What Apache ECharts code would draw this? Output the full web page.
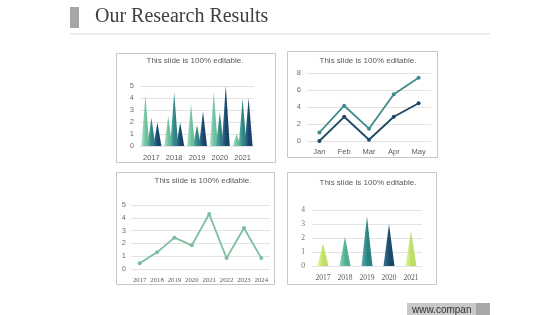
<!DOCTYPE html>
<html>
<head>
<meta charset="utf-8">
<script src="https://cdn.jsdelivr.net/npm/echarts@6/dist/echarts.min.js"></script>
<style>
  html, body { margin: 0; padding: 0; background: #fff; }
  #main { width: 560px; height: 315px; }
</style>
</head>
<body>
<div id="main"></div>
<script>
// chart 1 (cones, 3 series)
const years5 = ['2017', '2018', '2019', '2020', '2021']
const c1A = [4.2, 2.5, 3.5, 4.5, 1.0]
const c1B = [2.35, 4.45, 1.75, 2.8, 3.95]
const c1C = [1.95, 1.95, 2.9, 5.05, 4.0]
// chart 2 (two lines)
const months = ['Jan', 'Feb', 'Mar', 'Apr', 'May']
const c2A = [1.0, 4.15, 1.45, 5.5, 7.45]
const c2B = [0.0, 2.85, 0.15, 2.85, 4.45]
// chart 3 (one line)
const years8 = ['2017', '2018', '2019', '2020', '2021', '2022', '2023', '2024']
const c3 = [0.45, 1.3, 2.45, 1.85, 4.3, 0.85, 3.2, 0.85]
// chart 4 (single cones)
const c4 = [1.6, 2.1, 3.55, 3.0, 2.5]

const subTitle = 'This slide is 100% editable.'
const sans = 'Liberation Sans, Arial, sans-serif'
const serif = 'Liberation Serif, serif'

function grad (light, dark) {
  return new echarts.graphic.LinearGradient(0, 0, 1, 0, [
    { offset: 0, color: light },
    { offset: 0.55, color: dark },
    { offset: 1, color: dark }
  ])
}

function yAx (gridIndex, max, interval, margin, font) {
  return {
    type: 'value', gridIndex: gridIndex, min: 0, max: max, interval: interval,
    axisLine: { show: false }, axisTick: { show: false },
    splitLine: { lineStyle: { color: '#e3e3e3', width: 1 } },
    axisLabel: { color: '#707070', fontSize: 7.5, fontFamily: font, margin: margin }
  }
}
function xAx (gridIndex, data, margin, font, size) {
  return {
    type: 'category', gridIndex: gridIndex, data: data,
    axisLine: { show: false }, axisTick: { show: false },
    axisLabel: { color: '#595959', fontSize: size || 7.5, fontFamily: font, margin: margin, interval: 0 }
  }
}

const c4Colors = [
  ['#e2f59a', '#bfe064'],
  ['#8fd6bd', '#4faf90'],
  ['#5cb0ad', '#2a8383'],
  ['#3b7396', '#1a4a6a'],
  ['#e0f59c', '#bddf68']
]

const myChart = echarts.init(document.getElementById('main'))
myChart.setOption({
  animation: false,
  grid: [
    { left: 140, top: 86, width: 114, height: 60 },
    { left: 307, top: 73, width: 124, height: 68 },
    { left: 131, top: 205, width: 139, height: 64 },
    { left: 312, top: 210, width: 110, height: 56 }
  ],
  xAxis: [
    xAx(0, years5, 8, sans),
    xAx(1, months, 7, sans),
    xAx(2, years8, 8, serif, 6.8),
    xAx(3, years5, 8, serif)
  ],
  yAxis: [
    yAx(0, 5, 1, 6, sans),
    yAx(1, 8, 2, 6, sans),
    yAx(2, 5, 1, 5, sans),
    yAx(3, 4, 1, 7, serif)
  ],
  graphic: [
    // header
    { type: 'rect', shape: { x: 70, y: 7, width: 9, height: 21 }, style: { fill: '#a6a6a6' } },
    { type: 'text', style: { text: 'Our Research Results', x: 95, y: 17, textVerticalAlign: 'middle', font: '20px "Liberation Serif", serif', fill: '#404040' } },
    { type: 'rect', shape: { x: 70, y: 33.5, width: 420, height: 0.8 }, style: { fill: '#cfcfcf' } },
    // panels
    { type: 'rect', z: -1, shape: { x: 116.5, y: 53.5, width: 159, height: 109 }, style: { fill: '#fff', stroke: '#c6c6c6', lineWidth: 1 } },
    { type: 'rect', z: -1, shape: { x: 287.5, y: 51.5, width: 150, height: 106 }, style: { fill: '#fff', stroke: '#c6c6c6', lineWidth: 1 } },
    { type: 'rect', z: -1, shape: { x: 116.5, y: 172.5, width: 158, height: 112 }, style: { fill: '#fff', stroke: '#c6c6c6', lineWidth: 1 } },
    { type: 'rect', z: -1, shape: { x: 287.5, y: 172.5, width: 149, height: 112 }, style: { fill: '#fff', stroke: '#c6c6c6', lineWidth: 1 } },
    // panel titles
    { type: 'text', style: { text: subTitle, x: 195, y: 61, textAlign: 'center', textVerticalAlign: 'middle', font: '8px ' + sans, fill: '#595959' } },
    { type: 'text', style: { text: subTitle, x: 368, y: 61, textAlign: 'center', textVerticalAlign: 'middle', font: '8px ' + sans, fill: '#595959' } },
    { type: 'text', style: { text: subTitle, x: 203, y: 181, textAlign: 'center', textVerticalAlign: 'middle', font: '8px ' + sans, fill: '#595959' } },
    { type: 'text', style: { text: subTitle, x: 368, y: 183, textAlign: 'center', textVerticalAlign: 'middle', font: '8px ' + sans, fill: '#595959' } },
    // footer
    { type: 'rect', shape: { x: 407, y: 303, width: 69, height: 12 }, style: { fill: '#c9c9c9' } },
    { type: 'rect', shape: { x: 476, y: 303, width: 14, height: 12 }, style: { fill: '#a8a8a8' } },
    { type: 'text', style: { text: 'www.compan', x: 412, y: 310.5, textVerticalAlign: 'middle', font: '10px ' + sans, fill: '#333' } }
  ],
  series: [
    {
      type: 'pictorialBar', xAxisIndex: 0, yAxisIndex: 0, symbol: 'triangle',
      barWidth: 8, barGap: '-25%', data: c1A,
      itemStyle: { color: grad('#b2e6cb', '#6fc09c') }
    },
    {
      type: 'pictorialBar', xAxisIndex: 0, yAxisIndex: 0, symbol: 'triangle',
      barWidth: 8, barGap: '-25%', data: c1B,
      itemStyle: { color: grad('#63b3ae', '#2f8583') }
    },
    {
      type: 'pictorialBar', xAxisIndex: 0, yAxisIndex: 0, symbol: 'triangle',
      barWidth: 8, barGap: '-25%', data: c1C,
      itemStyle: { color: grad('#3a7597', '#184668') }
    },
    {
      type: 'line', xAxisIndex: 1, yAxisIndex: 1, data: c2A,
      symbol: 'circle', symbolSize: 4,
      lineStyle: { color: '#3f8b8c', width: 1.8 }, itemStyle: { color: '#3f8b8c' }
    },
    {
      type: 'line', xAxisIndex: 1, yAxisIndex: 1, data: c2B,
      symbol: 'circle', symbolSize: 4,
      lineStyle: { color: '#1d4764', width: 1.8 }, itemStyle: { color: '#1d4764' }
    },
    {
      type: 'line', xAxisIndex: 2, yAxisIndex: 2, data: c3,
      symbol: 'circle', symbolSize: 4,
      lineStyle: { color: '#7cbf9e', width: 1.8 }, itemStyle: { color: '#7cbf9e' }
    },
    {
      type: 'pictorialBar', xAxisIndex: 3, yAxisIndex: 3, symbol: 'triangle',
      barWidth: 11,
      data: c4.map((v, i) => ({ value: v, itemStyle: { color: grad(c4Colors[i][0], c4Colors[i][1]) } }))
    }
  ]
})
</script>
</body>
</html>
